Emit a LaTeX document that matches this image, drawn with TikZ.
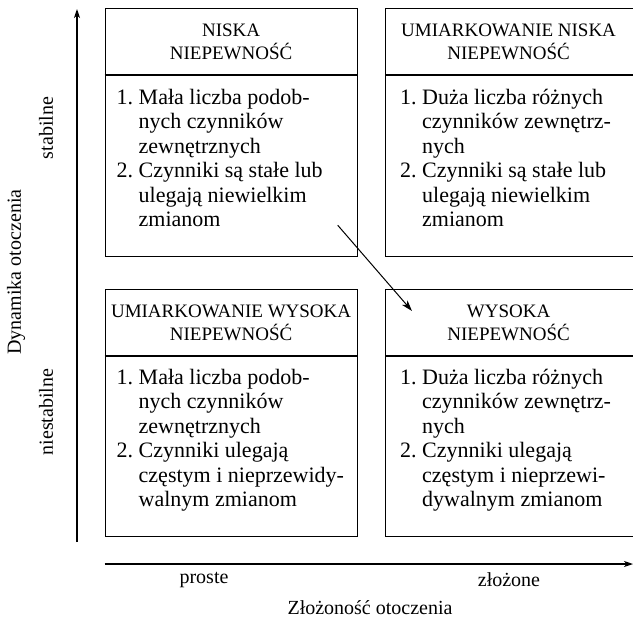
\documentclass[tikz,border=0pt]{standalone}
\usepackage{fontspec}
\setmainfont{Liberation Serif}
\usetikzlibrary{arrows.meta,calc}

\begin{document}
\begin{tikzpicture}[x=1pt,y=-1pt,
  frame/.style={draw, line width=1.2pt, minimum width=252pt, inner sep=0pt,
    anchor=north west},
  rule/.style={line width=1.2pt},
  head/.style={align=center, inner sep=0pt,
    font=\rmfamily\fontsize{19}{23}\selectfont},
  body/.style={anchor=north west, inner sep=0pt,
    font=\rmfamily\fontsize{22}{24.5}\selectfont},
  lab/.style={inner sep=0pt, font=\rmfamily\fontsize{20}{22}\selectfont},
  axis/.style={line width=1.1pt, -{Stealth[length=9pt,width=6pt,inset=2.5pt]}},
  flow/.style={line width=1pt, -{Stealth[length=11pt,width=7pt,inset=3pt]}}]
\useasboundingbox (0,0) rectangle (633,622);

% the four quadrants
\node[frame, minimum height=248pt] (q1) at (104.5,8) {};
\node[frame, minimum height=248pt] (q2) at (385,8) {};
\node[frame, minimum height=247pt] (q3) at (104.5,289) {};
\node[frame, minimum height=247pt] (q4) at (385,289) {};

% header separators
\foreach \q in {q1,q2,q3,q4}
  \draw[rule] ($(\q.north west)+(0,67)$) -- ($(\q.north east)+(0,67)$);

% headers
\node[head] (h1) at ($(q1.north)+(0,33.5)$) {NISKA\\NIEPEWNOŚĆ};
\node[head] (h2) at ($(q2.north)+(-3,33.5)$) {UMIARKOWANIE NISKA\\NIEPEWNOŚĆ};
\node[head] (h3) at ($(q3.north)+(0,33.5)$) {UMIARKOWANIE WYSOKA\\NIEPEWNOŚĆ};
\node[head] (h4) at ($(q4.north)+(-3,33.5)$) {WYSOKA\\NIEPEWNOŚĆ};

% item lists
\node[body] (b1) at ($(q1.north west)+(12,79)$) {%
  \begin{tabular}[t]{@{}l@{\ }l@{}}
  1. & Mała liczba podob-\\
     & nych czynników\\
     & zewnętrznych\\
  2. & Czynniki są stałe lub\\
     & ulegają niewielkim\\
     & zmianom
  \end{tabular}};
\node[body] (b2) at ($(q2.north west)+(15,79)$) {%
  \begin{tabular}[t]{@{}l@{\ }l@{}}
  1. & Duża liczba różnych\\
     & czynników zewnętrz-\\
     & nych\\
  2. & Czynniki są stałe lub\\
     & ulegają niewielkim\\
     & zmianom
  \end{tabular}};
\node[body] (b3) at ($(q3.north west)+(12,78)$) {%
  \begin{tabular}[t]{@{}l@{\ }l@{}}
  1. & Mała liczba podob-\\
     & nych czynników\\
     & zewnętrznych\\
  2. & Czynniki ulegają\\
     & częstym i nieprzewidy-\\
     & walnym zmianom
  \end{tabular}};
\node[body] (b4) at ($(q4.north west)+(15,78)$) {%
  \begin{tabular}[t]{@{}l@{\ }l@{}}
  1. & Duża liczba różnych\\
     & czynników zewnętrz-\\
     & nych\\
  2. & Czynniki ulegają\\
     & częstym i nieprzewi-\\
     & dywalnym zmianom
  \end{tabular}};

% shift from low to high uncertainty
\draw[flow] ($(q1.south east)+(-20,-32)$) -- ($(q4.north west)+(27,22)$);

% axes
\coordinate (ybot) at (77,542);
\coordinate (ytop) at (77,9);
\coordinate (xleft) at (104.5,564);
\coordinate (xright) at (633,564);
\draw[axis] (ybot) -- (ytop);
\draw[axis] (xleft) -- (xright);

% axis labels
\node[lab] (proste) at (204,580) {proste};
\node[lab] (zlozone) at (509,580) {złożone};
\node[lab] (xtitle) at (370,608) {Złożoność otoczenia};
\node[lab, rotate=90] (stab) at (46,128) {stabilne};
\node[lab, rotate=90] (niestab) at (46,412) {niestabilne};
\node[lab, rotate=90] (ytitle) at (16,272) {Dynamika otoczenia};
\end{tikzpicture}
\end{document}
